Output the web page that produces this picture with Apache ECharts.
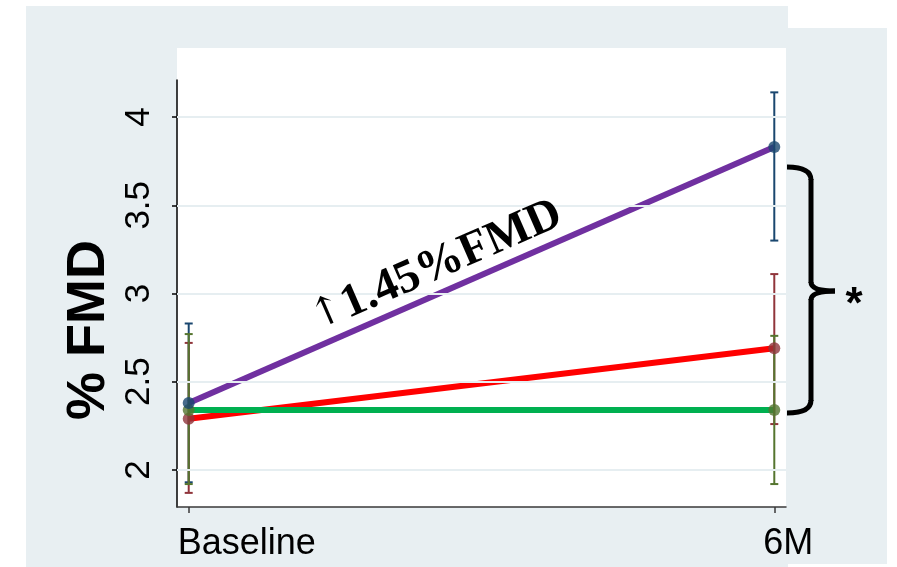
<!DOCTYPE html>
<html>
<head>
<meta charset="utf-8">
<script src="https://cdn.jsdelivr.net/npm/echarts@6/dist/echarts.min.js"></script>
<style>
  html, body { margin: 0; padding: 0; background: #ffffff; }
  #chart { width: 897px; height: 567px; }
</style>
</head>
<body>
<div id="chart"></div>
<script>
// Time points on the x axis
const categories = ['Baseline', '6M'];
// Y-axis tick values
const yTicks = [2, 2.5, 3, 3.5, 4];

// Group means with lower / upper error-bar limits per time point
const armAMean = [2.38, 3.83];
const armALow  = [1.93, 3.30];
const armAHigh = [2.83, 4.14];

const armBMean = [2.29, 2.69];
const armBLow  = [1.87, 2.26];
const armBHigh = [2.72, 3.11];

const armCMean = [2.34, 2.34];
const armCLow  = [1.92, 1.92];
const armCHigh = [2.77, 2.76];

const annotationText = '1.45%FMD';
const yAxisTitle = '% FMD';

const FONT = '"Liberation Sans", Arial, sans-serif';
const PANEL = '#e8eff2';

const chart = echarts.init(document.getElementById('chart'), null, { renderer: 'canvas' });

function pts(values) {
  return values.map((v, i) => [i, v]);
}
function bars(low, high) {
  return low.map((l, i) => [i, l, high[i]]);
}
function errorBarSeries(name, low, high, color) {
  return {
    name: name,
    type: 'custom',
    z: 3,
    data: bars(low, high),
    renderItem: function (params, api) {
      const x = api.value(0);
      const lo = api.coord([x, api.value(1)]);
      const hi = api.coord([x, api.value(2)]);
      const w = 4;
      const style = { stroke: color, lineWidth: 2, fill: null };
      return {
        type: 'group',
        children: [
          { type: 'line', shape: { x1: lo[0], y1: lo[1], x2: hi[0], y2: hi[1] }, style: style },
          { type: 'line', shape: { x1: lo[0] - w, y1: lo[1], x2: lo[0] + w, y2: lo[1] }, style: style },
          { type: 'line', shape: { x1: hi[0] - w, y1: hi[1], x2: hi[0] + w, y2: hi[1] }, style: style }
        ]
      };
    }
  };
}
function meanLine(name, values, color) {
  return {
    name: name, type: 'line', z: 2, data: pts(values),
    symbol: 'none', silent: true,
    lineStyle: { color: color, width: 6, cap: 'butt' }
  };
}
function meanDots(name, values, color) {
  return {
    name: name, type: 'scatter', z: 4, data: pts(values),
    symbol: 'circle', symbolSize: 12,
    itemStyle: { color: color }
  };
}

const option = {
  backgroundColor: '#ffffff',
  animation: false,
  grid: { left: 177, right: 111, top: 80, bottom: 60 },
  xAxis: {
    type: 'value',
    min: -0.02, max: 1.02,
    axisLine: { show: true, onZero: false, lineStyle: { color: '#3a3a3a', width: 1.5 } },
    axisTick: { show: true, customValues: [0, 1], length: 6, lineStyle: { color: '#3a3a3a', width: 1.5 } },
    axisLabel: { show: false },
    splitLine: { show: false }
  },
  yAxis: {
    type: 'value',
    min: 1.79, max: 4.21,
    axisLine: { show: true, onZero: false, lineStyle: { color: '#000', width: 1.5 } },
    axisTick: { show: true, customValues: yTicks, length: 5, lineStyle: { color: '#000', width: 1.5 } },
    axisLabel: {
      customValues: yTicks, rotate: 90, margin: 20,
      color: '#000', fontSize: 35, fontFamily: FONT,
      formatter: v => String(v)
    },
    splitLine: { show: false }
  },
  series: [
    {
      name: 'grid', type: 'line', data: [], z: 1, silent: true,
      markLine: {
        silent: true, symbol: 'none', label: { show: false },
        lineStyle: { color: '#e6eef1', width: 2, type: 'solid' },
        data: yTicks.map(t => ({ yAxis: t }))
      }
    },
    meanLine('armB', armBMean, '#ff0000'),
    meanLine('armC', armCMean, '#00b050'),
    meanLine('armA', armAMean, '#7030a0'),
    errorBarSeries('armA bars', armALow, armAHigh, '#1a476f'),
    errorBarSeries('armB bars', armBLow, armBHigh, '#90353b'),
    errorBarSeries('armC bars', armCLow, armCHigh, '#55752f'),
    meanDots('armB dots', armBMean, '#90353b'),
    meanDots('armC dots', armCMean, '#55752f'),
    meanDots('armA dots', armAMean, '#1a476f')
  ]
};
chart.setOption(option);

// Category labels sit left-aligned just before each tick
const labelEls = categories.map((c, i) => {
  const p = chart.convertToPixel({ xAxisIndex: 0, yAxisIndex: 0 }, [i, 1.79]);
  return {
    type: 'text', z: 50,
    x: p[0] - 11, y: p[1] + 19,
    style: { text: c, fill: '#000', font: '36px ' + FONT, textAlign: 'left', textVerticalAlign: 'top' }
  };
});

// Angle of the rising line, used for the annotation
const a0 = chart.convertToPixel({ xAxisIndex: 0, yAxisIndex: 0 }, [0, armAMean[0]]);
const a1 = chart.convertToPixel({ xAxisIndex: 0, yAxisIndex: 0 }, [1, armAMean[1]]);
const ang = Math.atan2(a0[1] - a1[1], a1[0] - a0[0]);

// Curly bracket on the right, built from straight and curved strokes
const bk = { stroke: '#000', lineWidth: 5, fill: null };
const bracket = [
  { type: 'bezierCurve', shape: { x1: 787, y1: 167, cpx1: 811, cpy1: 167, x2: 811, y2: 180 } },
  { type: 'line', shape: { x1: 811, y1: 179, x2: 811, y2: 283 } },
  { type: 'bezierCurve', shape: { x1: 811, y1: 282, cpx1: 811, cpy1: 291, x2: 835, y2: 291 } },
  { type: 'bezierCurve', shape: { x1: 835, y1: 291, cpx1: 811, cpy1: 291, x2: 811, y2: 300 } },
  { type: 'line', shape: { x1: 811, y1: 299, x2: 811, y2: 401 } },
  { type: 'bezierCurve', shape: { x1: 811, y1: 400, cpx1: 811, cpy1: 413, x2: 787, y2: 413 } }
].map(e => Object.assign(e, { z: 50, style: bk }));

chart.setOption({
  graphic: [
    // panel background
    { type: 'rect', z: -20, shape: { x: 26, y: 6, width: 762, height: 561 }, style: { fill: PANEL } },
    { type: 'rect', z: -20, shape: { x: 787, y: 28, width: 100, height: 536 }, style: { fill: PANEL } },
    // plot area
    { type: 'rect', z: -15, shape: { x: 177, y: 48, width: 609, height: 459 }, style: { fill: '#ffffff' } },
    // y-axis title
    {
      type: 'text', z: 50, x: 89, y: 330, rotation: Math.PI / 2,
      style: { text: yAxisTitle, fill: '#000', font: 'bold 54px ' + FONT, textAlign: 'center', textVerticalAlign: 'middle' }
    },
    // annotation along the rising line
    {
      type: 'text', z: 50, x: 322, y: 342, rotation: ang,
      style: {
        text: '{a|\u2191}{b|' + annotationText + '}',
        textAlign: 'left', textVerticalAlign: 'bottom',
        rich: {
          a: { fontFamily: '"DejaVu Serif", serif', fontSize: 40, fontWeight: 'normal', fill: '#000' },
          b: { fontFamily: '"Liberation Serif", "Times New Roman", serif', fontSize: 47, fontWeight: 'bold', fill: '#000' }
        }
      }
    },
    {
      type: 'text', z: 50, x: 854, y: 306,
      style: { text: '*', fill: '#000', font: 'bold 44px ' + FONT, textAlign: 'center', textVerticalAlign: 'middle' }
    }
  ].concat(bracket).concat(labelEls)
});
</script>
</body>
</html>
